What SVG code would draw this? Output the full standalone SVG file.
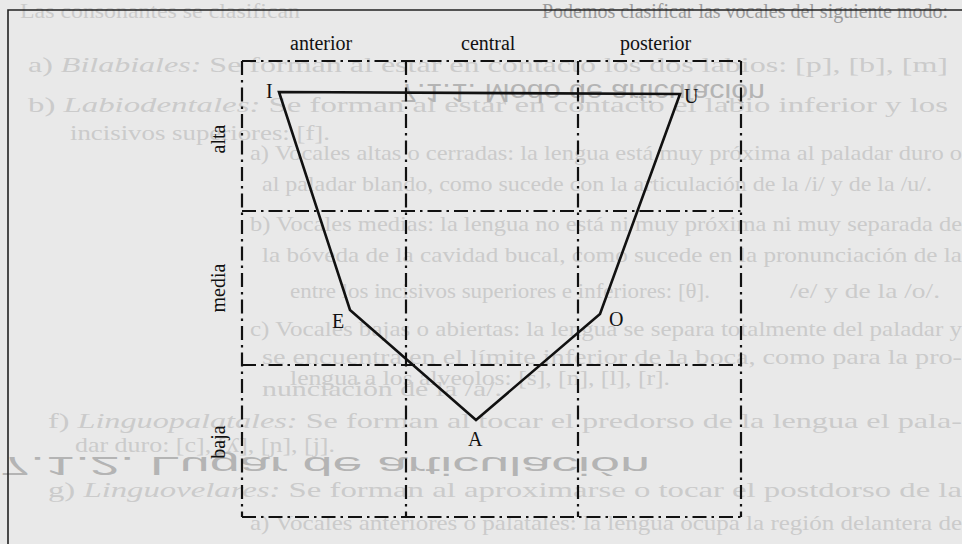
<svg xmlns="http://www.w3.org/2000/svg" width="962" height="544" viewBox="0 0 962 544">
<style>
.bg{font-family:"Liberation Serif",serif;font-size:21px;fill:#cbcbcb}
.bgi{font-style:italic}
.flip{font-family:"Liberation Sans",sans-serif;font-size:25px;fill:#b4b4b4}
.lbl{font-family:"Liberation Serif",serif;font-size:20px;fill:#111}
.grid{stroke:#111;stroke-width:2.2;fill:none;stroke-dasharray:14 5 2.5 5}
.solid{stroke:#111;stroke-width:2.6;fill:none;stroke-linejoin:miter}
</style>
<rect width="962" height="544" fill="#e9e9e9"/>
<g id="bleed-through">
<text class="bg" x="20" y="18" textLength="280" lengthAdjust="spacingAndGlyphs">Las consonantes se clasifican</text>
<text class="bg" x="542" y="18" textLength="406" lengthAdjust="spacingAndGlyphs" style="fill:#9a9a9a">Podemos clasificar las vocales del siguiente modo:</text>
<text class="bg" x="28" y="72" textLength="920" lengthAdjust="spacingAndGlyphs">a)   <tspan class="bgi">Bilabiales:</tspan> Se forman al estar en contacto los dos labios: [p], [b], [m]</text>
<text class="bg" x="28" y="112" textLength="920" lengthAdjust="spacingAndGlyphs">b)   <tspan class="bgi">Labiodentales:</tspan> Se forman al estar en contacto el labio inferior y los</text>
<text class="bg" x="70" y="140" textLength="260" lengthAdjust="spacingAndGlyphs">incisivos superiores: [f].</text>
<text class="bg" x="250" y="160" textLength="712" lengthAdjust="spacingAndGlyphs">a)   Vocales altas o cerradas: la lengua está muy próxima al paladar duro o</text>
<text class="bg" x="262" y="191" textLength="670" lengthAdjust="spacingAndGlyphs">al paladar blando, como sucede con la articulación de la /i/ y de la /u/.</text>
<text class="bg" x="250" y="231" textLength="712" lengthAdjust="spacingAndGlyphs">b)   Vocales medias: la lengua no está ni muy próxima ni muy separada de</text>
<text class="bg" x="262" y="262" textLength="700" lengthAdjust="spacingAndGlyphs">la bóveda de la cavidad bucal, como sucede en la pronunciación de la</text>
<text class="bg" x="290" y="298" textLength="420" lengthAdjust="spacingAndGlyphs">entre los incisivos superiores e inferiores: [θ].</text>
<text class="bg" x="790" y="298" textLength="150" lengthAdjust="spacingAndGlyphs">/e/ y de la /o/.</text>
<text class="bg" x="250" y="336" textLength="712" lengthAdjust="spacingAndGlyphs">c)   Vocales bajas o abiertas: la lengua se separa totalmente del paladar y</text>
<text class="bg" x="262" y="364" textLength="700" lengthAdjust="spacingAndGlyphs">se encuentra en el límite inferior de la boca, como para la pro-</text>
<text class="bg" x="290" y="385" textLength="380" lengthAdjust="spacingAndGlyphs">lengua a los alveolos: [s], [n], [l], [r].</text>
<text class="bg" x="262" y="396" textLength="240" lengthAdjust="spacingAndGlyphs">nunciación de la /a/.</text>
<text class="bg" x="48" y="428" textLength="914" lengthAdjust="spacingAndGlyphs">f)   <tspan class="bgi">Linguopalatales:</tspan> Se forman al tocar el predorso de la lengua el pala-</text>
<text class="bg" x="75" y="452" textLength="260" lengthAdjust="spacingAndGlyphs">dar duro: [c], [ʎ], [ɲ], [j].</text>
<text class="bg" x="48" y="497" textLength="914" lengthAdjust="spacingAndGlyphs">g)   <tspan class="bgi">Linguovelares:</tspan> Se forman al aproximarse o tocar el postdorso de la</text>
<text class="bg" x="250" y="530" textLength="712" lengthAdjust="spacingAndGlyphs">a)   Vocales anteriores o palatales: la lengua ocupa la región delantera de</text>
<text class="flip" x="400" y="-84" transform="scale(1,-1)" textLength="365" lengthAdjust="spacingAndGlyphs">7.1.1.    Modo de articulación</text>
<text class="flip" x="0" y="-457" transform="scale(1,-1)" textLength="650" lengthAdjust="spacingAndGlyphs">7.1.2.                         Lugar de articulación</text>
</g>
<g id="frame">
<path d="M8,544 L8,10 L962,10" stroke="#222" stroke-width="1.6" fill="none"/>
</g>
<g id="connectors">
<path class="grid" d="M242,61 H741"/>
<path class="grid" d="M242,211 H741"/>
<path class="grid" d="M242,365 H741"/>
<path class="grid" d="M242,517 H741"/>
<path class="grid" d="M242,61 V517"/>
<path class="grid" d="M406,61 V517"/>
<path class="grid" d="M578,61 V517"/>
<path class="grid" d="M741,61 V517"/>
<polygon id="vowel-trapezoid" class="solid" points="279,92 680,94 600,314 476,420 350,310"/>
</g>
<g id="col-anterior"><text class="lbl" x="290" y="50">anterior</text></g>
<g id="col-central"><text class="lbl" x="461" y="50">central</text></g>
<g id="col-posterior"><text class="lbl" x="620" y="50">posterior</text></g>
<g id="row-alta"><text class="lbl" text-anchor="middle" transform="translate(225,139) rotate(-90)">alta</text></g>
<g id="row-media"><text class="lbl" text-anchor="middle" transform="translate(225,288) rotate(-90)">media</text></g>
<g id="row-baja"><text class="lbl" text-anchor="middle" transform="translate(225,442) rotate(-90)">baja</text></g>
<g id="vowel-I"><text class="lbl" x="266" y="98">I</text></g>
<g id="vowel-U"><text class="lbl" x="684" y="103">U</text></g>
<g id="vowel-E"><text class="lbl" x="332" y="328">E</text></g>
<g id="vowel-O"><text class="lbl" x="609" y="326">O</text></g>
<g id="vowel-A"><text class="lbl" x="468" y="446">A</text></g>
</svg>
